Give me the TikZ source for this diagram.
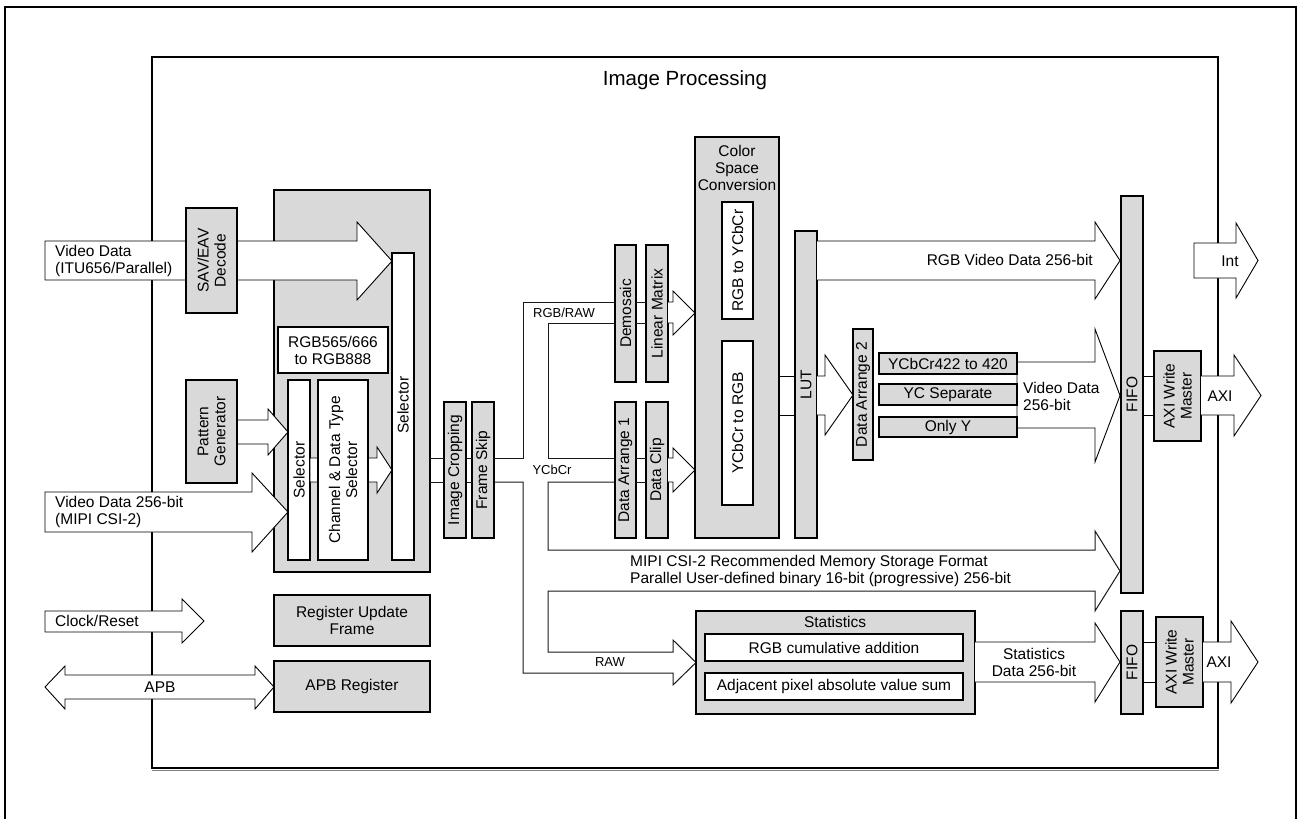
\documentclass[tikz,border=0pt]{standalone}
\usepackage{fontspec}
\setmainfont{Liberation Sans}
\definecolor{boxgray}{RGB}{217,217,217}
\definecolor{pipecol}{RGB}{25,25,25}
\newcommand\bx[6]{\node[#1, minimum width={(#5-#3)*1pt}, minimum height={(#6-#4)*1pt}] (#2) at ({(#3+#5)/2},{(#4+#6)/2}) {};}
\begin{document}
\begin{tikzpicture}[x=1pt,y=-1pt,
  gbox/.style={draw, fill=boxgray, line width=1.4pt, inner sep=0pt, outer sep=0pt},
  wbox/.style={draw, fill=white, line width=1.1pt, inner sep=0pt, outer sep=0pt},
  barrow/.style={draw, fill=white, line width=0.9pt, line join=miter},
  pipe/.style={draw=pipecol, line width=1pt},
  txt/.style={font=\fontsize{15.5}{17}\selectfont, inner sep=0pt, align=center},
  stxt/.style={font=\fontsize{13}{15}\selectfont, inner sep=0pt, align=center},
  ttxt/.style={font=\fontsize{20.5}{23}\selectfont, inner sep=0pt}]
\useasboundingbox (0,0) rectangle (1301,819);
% frames
\draw[line width=2.5pt] (5,819) -- (5,7) -- (1296,7) -- (1296,819);
\draw[line width=1.5pt] (152,57) rectangle (1218,768);
\draw[line width=0.8pt, gray] (152,770.5) -- (1218.5,770.5);
\node[ttxt] (title) at (685,80) {Image Processing};

% selector group
\bx{gbox}{grp}{274}{190}{430}{572}
\bx{wbox}{rgbconv}{278}{327}{388}{373}
\node[txt] at (rgbconv) {RGB565/666\\to RGB888};
\bx{wbox}{selL}{288}{380}{310}{560}
\bx{wbox}{selR}{392}{253}{414}{560}
\node[txt, rotate=90] at (selL) {Selector};
\node[txt, rotate=90] at (403,405) {Selector};

% input arrows
\draw[barrow] (45,241) -- (357,241) -- (357,222) -- (392,261) -- (357,300) -- (357,280) -- (45,280) -- cycle;
\draw[barrow] (237,420) -- (268,420) -- (268,409) -- (288,432) -- (268,455) -- (268,444) -- (237,444) -- cycle;
\draw[barrow] (45,492) -- (252,492) -- (252,473) -- (288,512) -- (252,552) -- (252,532) -- (45,532) -- cycle;
\draw[barrow] (310,458) -- (377,458) -- (377,447) -- (392,470) -- (377,493) -- (377,482) -- (310,482) -- cycle;
\draw[barrow] (45,611) -- (182,611) -- (182,599) -- (204,621) -- (182,643) -- (182,632) -- (45,632) -- cycle;
\draw[barrow] (45,687) -- (65,666) -- (65,675) -- (255,675) -- (255,666) -- (274,687) -- (255,709) -- (255,699) -- (65,699) -- (65,709) -- cycle;
\node[txt, align=left, anchor=west] at (55,261) {Video Data\\(ITU656/Parallel)};
\node[txt, align=left, anchor=west] at (55,512) {Video Data 256-bit\\(MIPI CSI-2)};
\node[txt, anchor=west] at (55,621) {Clock/Reset};
\node[txt] at (160,687) {APB};

\bx{wbox}{chsel}{318}{380}{368}{560}
\node[txt, rotate=90] at (chsel) {Channel \& Data Type\\Selector};

\bx{gbox}{sav}{186}{208}{237}{313}
\node[txt, rotate=90] at (sav) {SAV/EAV\\Decode};
\bx{gbox}{pat}{186}{380}{237}{483}
\node[txt, rotate=90] at (pat) {Pattern\\Generator};
\bx{gbox}{ruf}{274}{595}{430}{646}
\node[txt] at (ruf) {Register Update\\Frame};
\bx{gbox}{apbr}{274}{661}{430}{712}
\node[txt] at (apbr) {APB Register};

% cropping / frame skip
\bx{gbox}{crop}{444}{402}{466}{538}
\node[txt, rotate=90] at (crop) {Image Cropping};
\bx{gbox}{fskip}{472}{402}{494}{538}
\node[txt, rotate=90] at (fskip) {Frame Skip};
\draw[pipe] (430,458) -- (444,458) (430,482) -- (444,482);
\draw[pipe] (466,458) -- (472,458) (466,482) -- (472,482);

% pipe network
\draw[pipe] (494,458) -- (523,458) -- (523,302) -- (615,302);
\draw[pipe] (615,323) -- (548,323) -- (548,458) -- (615,458);
\draw[pipe, line join=miter] (615,482) -- (548,482) -- (548,550) -- (1095,550) -- (1095,531) -- (1120,571) -- (1095,611) -- (1095,591) -- (548,591) -- (548,652) -- (673,652) -- (673,640) -- (696,662.5) -- (673,685) -- (673,673) -- (523,673) -- (523,482) -- (494,482);
\node[stxt] at (564,313) {RGB/RAW};
\node[stxt] at (552,470) {YCbCr};
\node[stxt] at (610,662) {RAW};
\node[txt, align=left, anchor=west] at (630,571) {MIPI CSI-2 Recommended Memory Storage Format\\Parallel User-defined binary 16-bit (progressive) 256-bit};

% demosaic etc.
\bx{gbox}{demo}{615}{245}{636}{382}
\node[txt, rotate=90] at (demo) {Demosaic};
\bx{gbox}{lmat}{646}{245}{668}{382}
\node[txt, rotate=90] at (lmat) {Linear Matrix};
\bx{gbox}{da1}{615}{402}{636}{538}
\node[txt, rotate=90] at (da1) {Data Arrange 1};
\bx{gbox}{dclip}{646}{402}{668}{538}
\node[txt, rotate=90] at (dclip) {Data Clip};
\draw[pipe] (636,302) -- (646,302) (636,323) -- (646,323);
\draw[pipe] (636,458) -- (646,458) (636,482) -- (646,482);
\draw[barrow] (668,302) -- (673,302) -- (673,291) -- (695,313) -- (673,335) -- (673,323) -- (668,323);
\draw[barrow] (668,458) -- (673,458) -- (673,448) -- (695,470) -- (673,492) -- (673,482) -- (668,482);

% color space conversion
\bx{gbox}{csc}{695}{137}{779}{538}
\node[txt] at (737,168) {Color\\Space\\Conversion};
\bx{wbox}{r2y}{722}{202}{753}{319}
\node[txt, rotate=90] at (r2y) {RGB to YCbCr};
\bx{wbox}{y2r}{722}{341}{753}{505}
\node[txt, rotate=90] at (y2r) {YCbCr to RGB};

% LUT
\bx{gbox}{lut}{795}{231}{817}{538}
\node[txt, rotate=90] at (lut) {LUT};
\draw[line width=0.9pt] (779,376) -- (795,376) (779,415) -- (795,415);
\draw[barrow] (817,376) -- (825,376) -- (825,355) -- (853,395) -- (825,435) -- (825,415) -- (817,415);
\draw[barrow] (817,241) -- (1095,241) -- (1095,222) -- (1120,260.5) -- (1095,299) -- (1095,280) -- (817,280);
\node[txt, anchor=east] at (1093,260) {RGB Video Data 256-bit};

% data arrange 2
\bx{gbox}{da2}{853}{329}{873}{460}
\node[txt, rotate=90] at (da2) {Data Arrange 2};
\draw[barrow] (1017,362) -- (1095,362) -- (1095,329) -- (1120,395.5) -- (1095,462) -- (1095,428) -- (1017,428) -- cycle;
\bx{gbox}{y420}{879}{353}{1017}{374}
\node[txt] at (y420) {YCbCr422 to 420};
\bx{gbox}{ycsep}{879}{384}{1017}{405}
\node[txt] at (ycsep) {YC Separate};
\bx{gbox}{onlyy}{879}{417}{1017}{437}
\node[txt] at (onlyy) {Only Y};
\node[txt, align=left, anchor=west] at (1023,396) {Video Data\\256-bit};

% statistics
\bx{gbox}{stat}{696}{611}{975}{714}
\node[txt] at (835,622) {Statistics};
\bx{wbox}{rgbcum}{705}{634}{963}{661}
\node[txt] at (rgbcum) {RGB cumulative addition};
\bx{wbox}{adj}{705}{673}{963}{700}
\node[txt] at (adj) {Adjacent pixel absolute value sum};
\draw[barrow] (975,642) -- (1095,642) -- (1095,623) -- (1120,662) -- (1095,702) -- (1095,682) -- (975,682);
\node[txt] at (1034,662) {Statistics\\Data 256-bit};

% FIFOs and AXI
\bx{gbox}{fifo1}{1121}{196}{1143}{593}
\node[txt, rotate=90] at (fifo1) {FIFO};
\bx{gbox}{fifo2}{1121}{611}{1143}{714}
\node[txt, rotate=90] at (fifo2) {FIFO};
\draw[line width=0.9pt] (1143,376) -- (1154,376) (1143,415) -- (1154,415);
\draw[line width=0.9pt] (1143,642) -- (1156,642) (1143,682) -- (1156,682);
\bx{gbox}{axi1}{1154}{351}{1201}{441}
\node[txt, rotate=90] at (axi1) {AXI Write\\Master};
\bx{gbox}{axi2}{1156}{617}{1203}{707}
\node[txt, rotate=90] at (axi2) {AXI Write\\Master};
\draw[barrow] (1194,243) -- (1236,243) -- (1236,223) -- (1258,260.5) -- (1236,298) -- (1236,278) -- (1194,278) -- cycle;
\node[txt] at (1230,261) {Int};
\draw[barrow] (1201,376) -- (1234,376) -- (1234,355) -- (1261,395.5) -- (1234,436) -- (1234,415) -- (1201,415);
\node[txt] at (1220,396) {AXI};
\draw[barrow] (1203,642) -- (1231,642) -- (1231,621) -- (1258,662) -- (1231,703) -- (1231,682) -- (1203,682);
\node[txt] at (1219,662) {AXI};
\end{tikzpicture}
\end{document}
